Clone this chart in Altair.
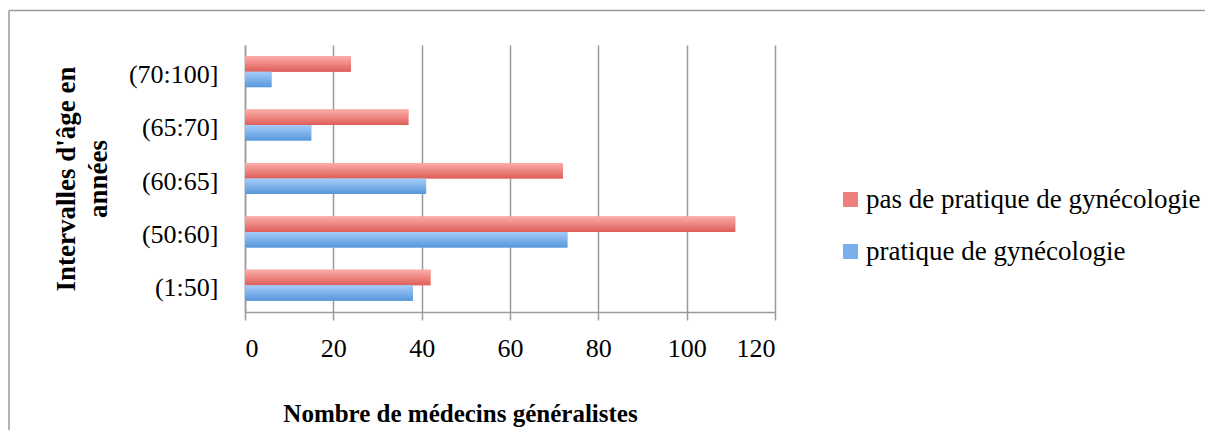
import altair as alt
import pandas as pd

# ---- data ----
categories = ["(70:100]", "(65:70]", "(60:65]", "(50:60]", "(1:50]"]
series_names = ["pas de pratique de gynécologie", "pratique de gynécologie"]
pas_pratique = [24, 37, 72, 111, 42]
pratique = [6, 15, 41, 73, 38]
x_ticks = [0, 20, 40, 60, 80, 100, 120]

rows = []
for c, a, b in zip(categories, pas_pratique, pratique):
    rows.append({"age": c, "serie": series_names[0], "n": a})
    rows.append({"age": c, "serie": series_names[1], "n": b})
df = pd.DataFrame(rows)

FONT = "Liberation Serif"
GRAY = "#9a9a9a"

y_enc = alt.Y(
    "age:N",
    sort=categories,
    scale=alt.Scale(paddingInner=0.42, paddingOuter=0.21),
    axis=alt.Axis(
        title=["Intervalles d'âge en", "années"],
        titleFont=FONT, titleFontSize=27, titleFontWeight="bold", titleColor="black",
        titleAngle=270, titleBaseline="top", titleAlign="center",
        titleX=-192, titleY=133.5, titleLineHeight=32,
        labelFont=FONT, labelFontSize=26, labelColor="black", labelPadding=27,
        labelOffset=3,
        ticks=False, domainColor=GRAY, domainWidth=1.5, grid=False,
    ),
)
x_enc = alt.X(
    "n:Q",
    scale=alt.Scale(domain=[0, 120], nice=False),
    axis=alt.Axis(
        values=x_ticks, title="Nombre de médecins généralistes",
        titleFont=FONT, titleFontSize=25, titleFontWeight="bold", titleColor="black",
        titleX=215, titleY=89, titleAlign="center", titleBaseline="top",
        labelFont=FONT, labelFontSize=26, labelColor="black", labelPadding=15,
        tickSize=8, tickColor=GRAY, tickWidth=1.5,
        domainColor=GRAY, domainWidth=1.5,
        grid=True, gridColor=GRAY, gridWidth=1.5,
    ),
)
yoff = alt.YOffset("serie:N", scale=alt.Scale(domain=series_names, paddingInner=0, paddingOuter=0))

base = alt.Chart(df).encode(y=y_enc, x=x_enc, yOffset=yoff)

legend_layer = base.mark_bar().encode(
    color=alt.Color(
        "serie:N",
        scale=alt.Scale(domain=series_names, range=["#EE7F7A", "#79AFEB"]),
        legend=alt.Legend(
            title=None, orient="none", legendX=592, legendY=141, padding=0,
            symbolType="square", symbolSize=225, symbolStrokeWidth=0,
            labelFont=FONT, labelFontSize=27, labelColor="black",
            labelOffset=2, rowPadding=24, labelLimit=500,
        ),
    )
)

red_grad = alt.Gradient(
    gradient="linear",
    stops=[alt.GradientStop(color="#FCADAA", offset=0), alt.GradientStop(color="#DF5E59", offset=1)],
    x1=0, x2=0, y1=0, y2=1,
)
blue_grad = alt.Gradient(
    gradient="linear",
    stops=[alt.GradientStop(color="#A5CCFA", offset=0), alt.GradientStop(color="#5797DA", offset=1)],
    x1=0, x2=0, y1=0, y2=1,
)
red_layer = base.mark_bar(color=red_grad).transform_filter(alt.datum.serie == series_names[0])
blue_layer = base.mark_bar(color=blue_grad).transform_filter(alt.datum.serie == series_names[1])

frame_df = pd.DataFrame({"k": [0]})
frame_top = alt.Chart(frame_df).mark_rule(color=GRAY, strokeWidth=1.5).encode(
    x=alt.value(-236), x2=alt.value(980), y=alt.value(-34.5)
)
frame_left = alt.Chart(frame_df).mark_rule(color=GRAY, strokeWidth=1.5).encode(
    x=alt.value(-236), y=alt.value(-34.5), y2=alt.value(420)
)

chart = alt.layer(legend_layer, red_layer, blue_layer, frame_top, frame_left).properties(
    width=530, height=267,
    padding={"left": 237, "top": 37, "right": 430, "bottom": 118},
    autosize=alt.AutoSizeParams(type="none"),
).configure_view(stroke=None)

chart.save("out.html", embed_options={"renderer": "svg", "actions": False})
